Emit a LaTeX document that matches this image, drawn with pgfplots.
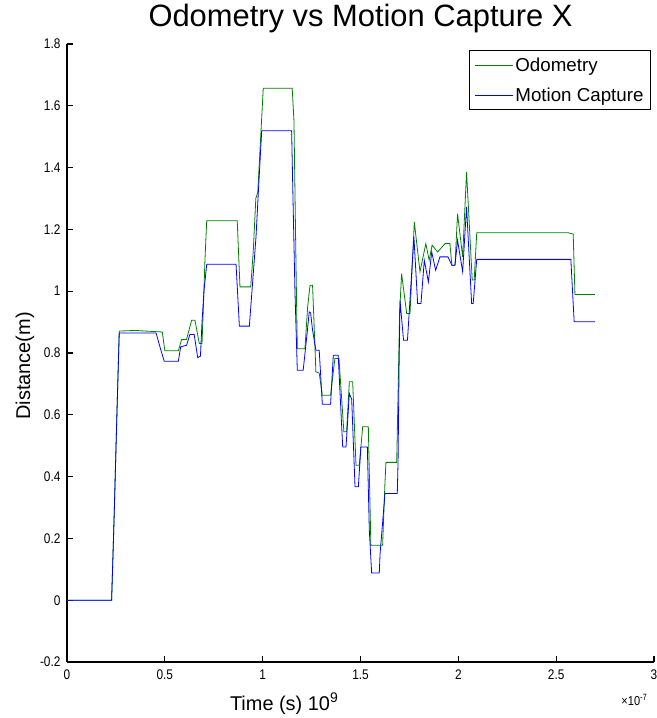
\documentclass[border=0pt]{standalone}
\usepackage{fontspec}
\setmainfont{Liberation Sans}
\newfontfamily\tickfont[FakeStretch=0.85]{Liberation Sans}
\usepackage{pgfplots}
\pgfplotsset{compat=1.18}
\definecolor{odogreen}{RGB}{0,128,0}
\definecolor{mocapblue}{RGB}{0,0,255}

\begin{document}
\begin{tikzpicture}
\begin{axis}[
    scale only axis,
    width=587bp, height=618bp,
    xmin=0, xmax=3, ymin=-0.2, ymax=1.8,
    axis x line*=bottom, axis y line*=left,
    axis line style={line width=1.2pt, -},
    major tick style={line width=1.2pt, black},
    major tick length=6bp,
    tick align=inside,
    xtick={0,0.5,...,3},
    ytick={-0.2,0,0.2,0.4,0.6,0.8,1,1.2,1.4,1.6,1.8},
    /pgf/number format/assume math mode=true,
    ticklabel style={font=\tickfont\fontsize{14}{16}\selectfont},
    xticklabel style={yshift=-4bp},
    yticklabel style={xshift=-3bp},
    title={Odometry vs Motion Capture X},
    title style={font=\fontsize{31}{36}\selectfont, at={(axis description cs:0.5,1)}, anchor=base, yshift=12bp},
    xlabel={Time (s) 10\textsuperscript{9}},
    xlabel style={font=\fontsize{20}{24}\selectfont, at={(axis description cs:0.37,0)}, anchor=base, yshift=-48bp},
    ylabel={Distance(m)},
    ylabel style={font=\fontsize{20}{24}\selectfont, at={(axis description cs:-0.0716,0.479)}, anchor=center},
    legend style={at={(0.995,0.99)}, anchor=north east, draw=black, very thick,
      font=\fontsize{18.8}{22}\selectfont, fill=white, row sep=11bp, inner sep=5bp},
    legend cell align=left,
    legend image code/.code={\draw[#1] (0bp,0bp) -- (38bp,0bp);},
    legend image post style={line width=1.1pt},
]
\addplot[odogreen, line width=0.8pt] coordinates {
(0,0) (0.228,0) (0.24,0.25) (0.255,0.6) (0.267,0.871) (0.35,0.873) (0.40,0.871)
(0.487,0.868) (0.50,0.807) (0.569,0.807) (0.586,0.844) (0.611,0.844) (0.637,0.906)
(0.654,0.906) (0.676,0.831) (0.690,0.831) (0.697,0.95) (0.705,1.1) (0.714,1.228)
(0.870,1.228) (0.884,1.014) (0.939,1.014) (0.952,1.13) (0.965,1.30) (0.975,1.32)
(0.99,1.50) (1.003,1.657) (1.151,1.657) (1.160,1.55) (1.17,1.10) (1.177,0.814)
(1.216,0.814) (1.230,0.95) (1.242,1.019) (1.255,1.019) (1.262,0.906) (1.272,0.739)
(1.289,0.735) (1.305,0.663) (1.347,0.663) (1.369,0.782) (1.39,0.782) (1.415,0.545)
(1.429,0.545) (1.443,0.707) (1.46,0.707) (1.477,0.437) (1.494,0.437) (1.511,0.561)
(1.54,0.561) (1.553,0.178) (1.613,0.178) (1.625,0.38) (1.630,0.446) (1.685,0.446)
(1.693,0.7) (1.70,0.93) (1.710,1.057) (1.736,0.928) (1.753,0.928) (1.775,1.224)
(1.804,1.063) (1.834,1.154) (1.851,1.10) (1.866,1.149) (1.894,1.127) (1.932,1.154)
(1.957,1.154) (1.967,1.084) (1.983,1.084) (1.996,1.251) (2.022,1.111) (2.042,1.386)
(2.071,1.036) (2.081,1.036) (2.094,1.189) (2.562,1.189) (2.587,1.185) (2.596,0.989)
(2.698,0.989)
};
\addlegendentry{Odometry}
\addplot[mocapblue, line width=0.8pt] coordinates {
(0,0) (0.228,0) (0.24,0.25) (0.255,0.6) (0.267,0.865) (0.455,0.865) (0.475,0.82)
(0.497,0.773) (0.569,0.773) (0.581,0.82) (0.611,0.825) (0.628,0.86) (0.650,0.86)
(0.668,0.785) (0.682,0.79) (0.690,0.9) (0.700,1.0) (0.714,1.087) (0.864,1.087)
(0.881,0.887) (0.932,0.887) (0.966,1.176) (0.978,1.321) (0.995,1.519) (1.148,1.519)
(1.155,1.3) (1.165,1.0) (1.177,0.744) (1.207,0.744) (1.225,0.85) (1.238,0.933)
(1.245,0.93) (1.255,0.874) (1.272,0.809) (1.289,0.809) (1.305,0.634) (1.347,0.634)
(1.361,0.793) (1.386,0.793) (1.409,0.496) (1.426,0.496) (1.443,0.669) (1.455,0.65)
(1.472,0.367) (1.489,0.367) (1.502,0.496) (1.535,0.496) (1.545,0.227) (1.557,0.088)
(1.596,0.088) (1.60,0.15) (1.625,0.345) (1.688,0.345) (1.692,0.45) (1.697,0.75)
(1.702,0.97) (1.72,0.841) (1.74,0.841) (1.773,1.176) (1.792,0.96) (1.809,0.96)
(1.826,1.10) (1.847,1.03) (1.864,1.127) (1.884,1.068) (1.906,1.111) (1.947,1.111)
(1.967,1.084) (1.983,1.084) (1.996,1.165) (2.022,1.063) (2.042,1.273) (2.068,0.96)
(2.076,0.96) (2.094,1.103) (2.575,1.103) (2.592,0.901) (2.698,0.901)
};
\addlegendentry{Motion Capture}
\end{axis}
\node[anchor=base east, font=\tickfont\fontsize{13}{15}\selectfont] at (584bp,-43bp) {×10\textsuperscript{-7}};
\pgfresetboundingbox
\path (-67bp,-56bp) rectangle (590bp,662bp);
\end{tikzpicture}
\end{document}
